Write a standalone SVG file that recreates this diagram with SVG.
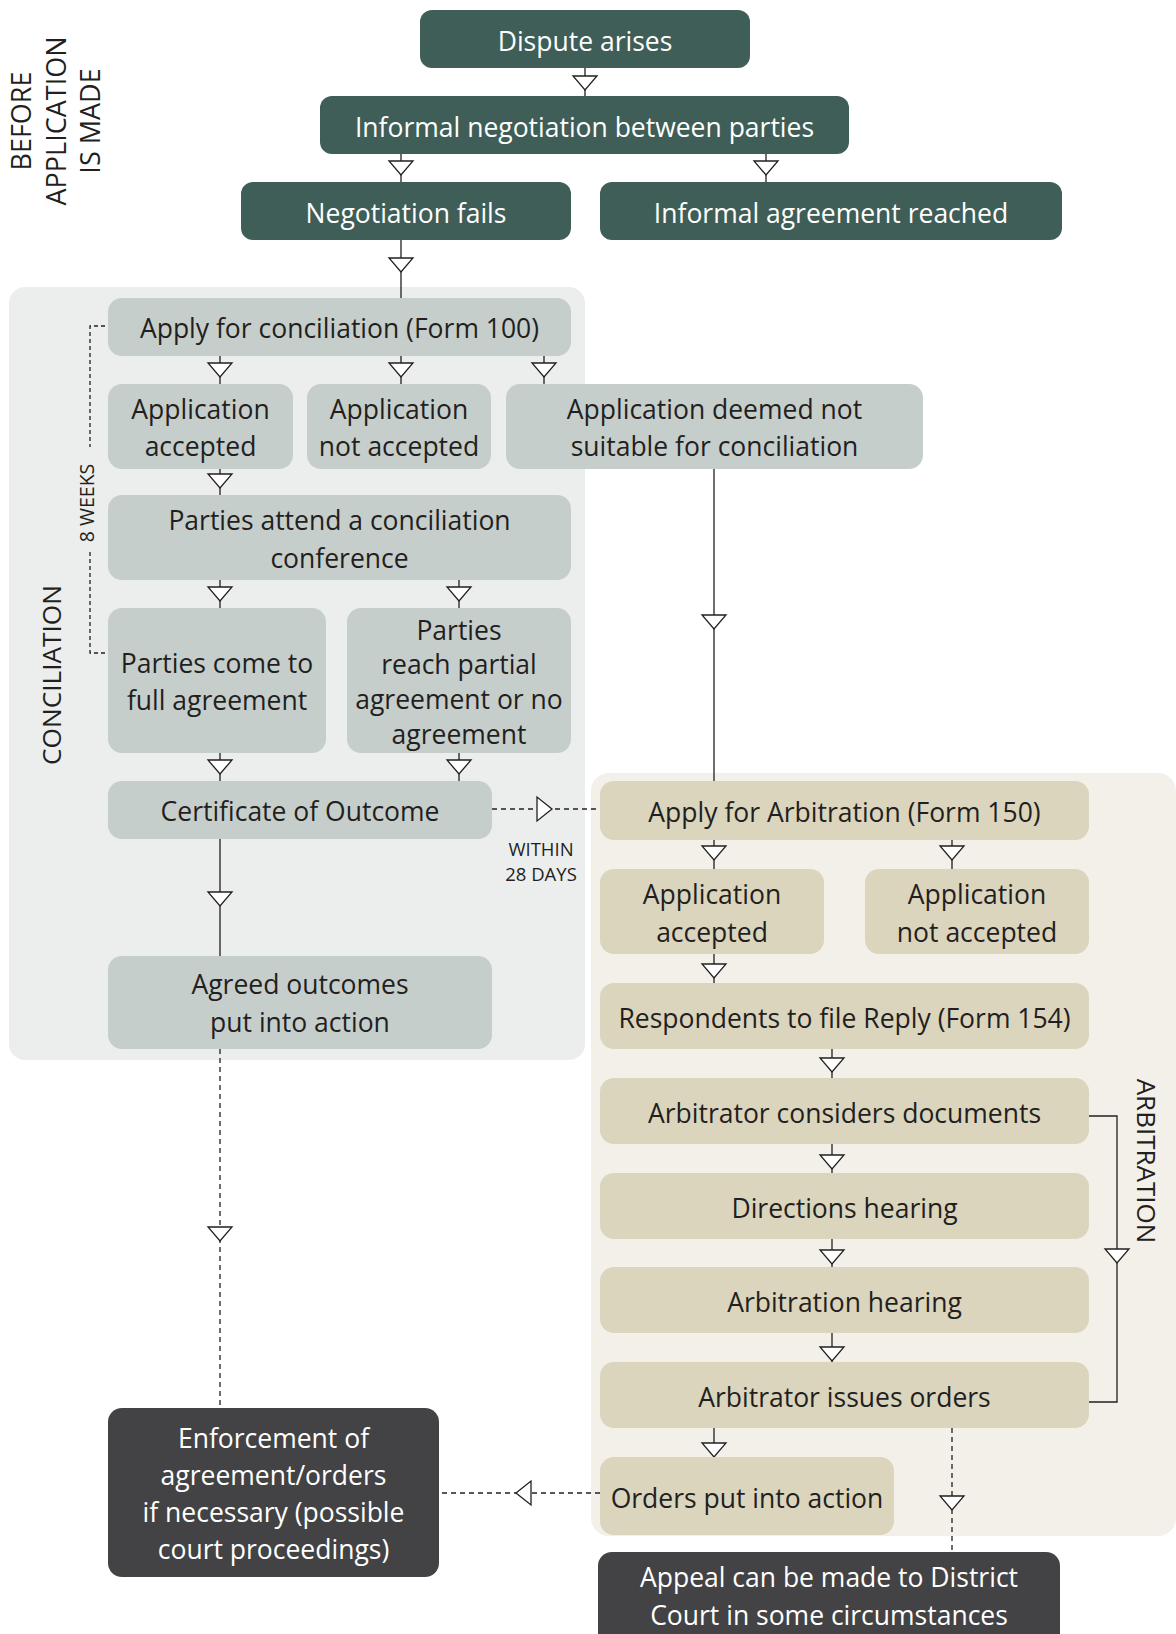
<svg xmlns="http://www.w3.org/2000/svg" xmlns:xlink="http://www.w3.org/1999/xlink" width="1176" height="1634" viewBox="0 0 1176 1634">
<defs>
<style>
.t{font-family:"Open Sans","Noto Sans","DejaVu Sans",sans-serif;font-size:26.5px;text-anchor:middle;fill:#231F20}
.w{fill:#FFFFFF}
.green{fill:#3E5E57}
.grey{fill:#C6CECC}
.beige{fill:#DBD5BE}
.dark{fill:#434345}
.ln{fill:none;stroke:#231F20;stroke-width:1.3}
.dash{stroke-dasharray:5 4}
.dot{stroke-dasharray:4 3}
.tri{fill:#FFFFFF;stroke:#231F20;stroke-width:1.3}
.lab{font-family:"Open Sans","Noto Sans","DejaVu Sans",sans-serif;fill:#231F20;text-anchor:middle}
</style>
<path id="td" d="M-12,0 L12,0 L0,14 Z"/>
<path id="tr" d="M0,-12 L0,12 L15,0 Z"/>
<path id="tl" d="M0,-12 L0,12 L-15,0 Z"/>
</defs>

<g id="backgrounds">
<rect x="9" y="287" width="576" height="773" rx="16" fill="#ECEEED"/>
<rect x="591" y="773" width="585" height="763" rx="18" fill="#F3F0EA"/>
</g>

<g id="section-labels" class="lab">
<text font-size="27" transform="translate(30.5,121) rotate(-90)">BEFORE</text>
<text font-size="27" transform="translate(65.5,121) rotate(-90)">APPLICATION</text>
<text font-size="27" transform="translate(100,121) rotate(-90)">IS MADE</text>
<text font-size="26.2" transform="translate(60.7,675) rotate(-90)">CONCILIATION</text>
<text font-size="26" transform="translate(1136.8,1161) rotate(90)">ARBITRATION</text>
<text font-size="19.5" transform="translate(94,503) rotate(-90)">8 WEEKS</text>
<text font-size="18.5" x="541" y="856">WITHIN</text>
<text font-size="18.5" x="541" y="881">28 DAYS</text>
</g>

<g id="connectors">
<path class="ln" d="M585,68 V96 M401,154 V182 M766,154 V182 M401,240 V298 M220,356 V384 M401,356 V384 M544,356 V384 M220,469 V495 M220,580 V608 M459,580 V608 M220,753 V781 M459,753 V781 M220,839 V956 M714,469 V781 M714,840 V869 M952,840 V869 M714,954 V983 M832,1049 V1078 M832,1144 V1173 M832,1239 V1267 M832,1333 V1362 M714,1428 V1457 M1089,1116 H1117 V1402 H1089"/>
<path class="ln dash" d="M220,1049 V1408 M952,1428 V1552 M492,809 H600 M442,1493 H600"/>
<path class="ln dot" d="M105,326 H90 V447 M90,552 V653 H105"/>
<use href="#td" class="tri" x="585" y="76"/>
<use href="#td" class="tri" x="401" y="161"/>
<use href="#td" class="tri" x="766" y="161"/>
<use href="#td" class="tri" x="401" y="258"/>
<use href="#td" class="tri" x="220" y="363"/>
<use href="#td" class="tri" x="401" y="363"/>
<use href="#td" class="tri" x="544" y="363"/>
<use href="#td" class="tri" x="220" y="474"/>
<use href="#td" class="tri" x="220" y="587"/>
<use href="#td" class="tri" x="459" y="587"/>
<use href="#td" class="tri" x="220" y="760"/>
<use href="#td" class="tri" x="459" y="760"/>
<use href="#td" class="tri" x="220" y="892"/>
<use href="#td" class="tri" x="220" y="1227"/>
<use href="#td" class="tri" x="714" y="615"/>
<use href="#td" class="tri" x="714" y="846"/>
<use href="#td" class="tri" x="952" y="846"/>
<use href="#td" class="tri" x="714" y="964"/>
<use href="#td" class="tri" x="832" y="1058"/>
<use href="#td" class="tri" x="832" y="1155"/>
<use href="#td" class="tri" x="832" y="1250"/>
<use href="#td" class="tri" x="832" y="1347"/>
<use href="#td" class="tri" x="714" y="1443"/>
<use href="#td" class="tri" x="952" y="1496"/>
<use href="#td" class="tri" x="1117" y="1249"/>
<use href="#tr" class="tri" x="537" y="809"/>
<use href="#tl" class="tri" x="531" y="1493"/>
</g>

<g id="n-dispute"><rect class="green" x="420" y="10" width="330" height="58" rx="12"/><text class="t w" x="585" y="50.5">Dispute arises</text></g>
<g id="n-informal-negotiation"><rect class="green" x="320" y="96" width="529" height="58" rx="12"/><text class="t w" x="584.5" y="136.5">Informal negotiation between parties</text></g>
<g id="n-negotiation-fails"><rect class="green" x="241" y="182" width="330" height="58" rx="12"/><text class="t w" x="406" y="222.5">Negotiation fails</text></g>
<g id="n-informal-agreement"><rect class="green" x="600" y="182" width="462" height="58" rx="12"/><text class="t w" x="831" y="222.5">Informal agreement reached</text></g>

<g id="n-apply-conciliation"><rect class="grey" x="108" y="298" width="463" height="58" rx="14"/><text class="t" x="339.5" y="337.5">Apply for conciliation (Form 100)</text></g>
<g id="n-conc-accepted"><rect class="grey" x="108" y="384" width="185" height="85" rx="14"/><text class="t"><tspan x="200.5" y="418.5">Application</tspan><tspan x="200.5" y="456">accepted</tspan></text></g>
<g id="n-conc-not-accepted"><rect class="grey" x="307" y="384" width="184" height="85" rx="14"/><text class="t"><tspan x="399" y="418.5">Application</tspan><tspan x="399" y="456">not accepted</tspan></text></g>
<g id="n-not-suitable"><rect class="grey" x="506" y="384" width="417" height="85" rx="14"/><text class="t"><tspan x="714.5" y="418.5">Application deemed not</tspan><tspan x="714.5" y="456">suitable for conciliation</tspan></text></g>
<g id="n-conference"><rect class="grey" x="108" y="495" width="463" height="85" rx="14"/><text class="t"><tspan x="339.5" y="530">Parties attend a conciliation</tspan><tspan x="339.5" y="567.5">conference</tspan></text></g>
<g id="n-full-agreement"><rect class="grey" x="108" y="608" width="218" height="145" rx="14"/><text class="t"><tspan x="217" y="672.5">Parties come to</tspan><tspan x="217" y="710">full agreement</tspan></text></g>
<g id="n-partial-agreement"><rect class="grey" x="347" y="608" width="224" height="145" rx="14"/><text class="t"><tspan x="459" y="639.5">Parties</tspan><tspan x="459" y="674">reach partial</tspan><tspan x="459" y="709">agreement or no</tspan><tspan x="459" y="743.5">agreement</tspan></text></g>
<g id="n-certificate"><rect class="grey" x="108" y="781" width="384" height="58" rx="14"/><text class="t" x="300" y="821">Certificate of Outcome</text></g>
<g id="n-agreed-outcomes"><rect class="grey" x="108" y="956" width="384" height="93" rx="14"/><text class="t"><tspan x="300" y="994">Agreed outcomes</tspan><tspan x="300" y="1031.5">put into action</tspan></text></g>

<g id="n-apply-arbitration"><rect class="beige" x="600" y="781" width="489" height="59" rx="14"/><text class="t" x="844.5" y="821.5">Apply for Arbitration (Form 150)</text></g>
<g id="n-arb-accepted"><rect class="beige" x="600" y="869" width="224" height="85" rx="14"/><text class="t"><tspan x="712" y="904">Application</tspan><tspan x="712" y="941.5">accepted</tspan></text></g>
<g id="n-arb-not-accepted"><rect class="beige" x="865" y="869" width="224" height="85" rx="14"/><text class="t"><tspan x="977" y="904">Application</tspan><tspan x="977" y="941.5">not accepted</tspan></text></g>
<g id="n-reply"><rect class="beige" x="600" y="983" width="489" height="66" rx="14"/><text class="t" x="844.5" y="1027.5">Respondents to file Reply (Form 154)</text></g>
<g id="n-considers"><rect class="beige" x="600" y="1078" width="489" height="66" rx="14"/><text class="t" x="844.5" y="1122.5">Arbitrator considers documents</text></g>
<g id="n-directions"><rect class="beige" x="600" y="1173" width="489" height="66" rx="14"/><text class="t" x="844.5" y="1217.5">Directions hearing</text></g>
<g id="n-hearing"><rect class="beige" x="600" y="1267" width="489" height="66" rx="14"/><text class="t" x="844.5" y="1311.5">Arbitration hearing</text></g>
<g id="n-orders"><rect class="beige" x="600" y="1362" width="489" height="66" rx="14"/><text class="t" x="844.5" y="1406.5">Arbitrator issues orders</text></g>
<g id="n-orders-action"><rect class="beige" x="600" y="1457" width="294" height="78" rx="14"/><text class="t" x="747" y="1507.5">Orders put into action</text></g>

<g id="n-enforcement"><rect class="dark" x="108" y="1408" width="331" height="169" rx="14"/><text class="t w"><tspan x="273.5" y="1447.5">Enforcement of</tspan><tspan x="273.5" y="1484.5">agreement/orders</tspan><tspan x="273.5" y="1522">if necessary (possible</tspan><tspan x="273.5" y="1559">court proceedings)</tspan></text></g>
<g id="n-appeal"><rect class="dark" x="598" y="1552" width="462" height="110" rx="14"/><text class="t w"><tspan x="829" y="1587">Appeal can be made to District</tspan><tspan x="829" y="1624.5">Court in some circumstances</tspan></text></g>
</svg>
